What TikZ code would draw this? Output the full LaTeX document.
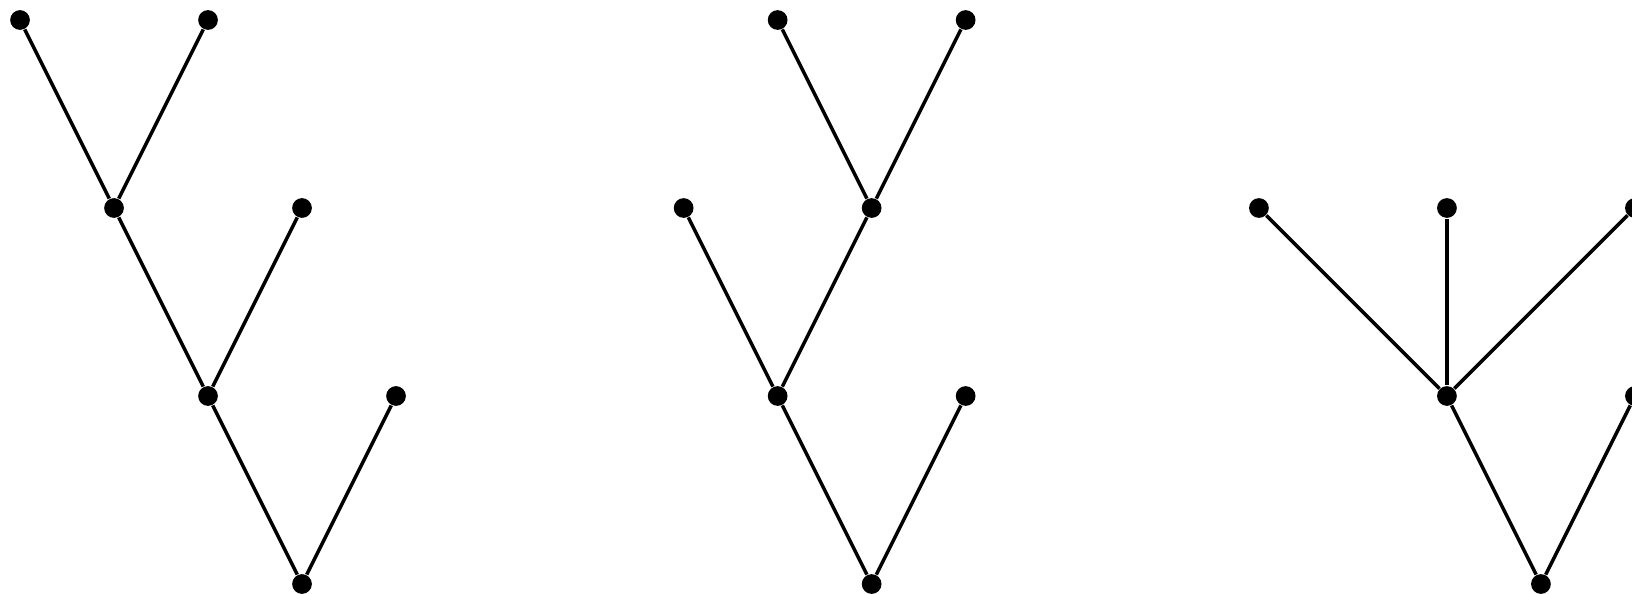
\documentclass[tikz,border=0pt]{standalone}
\begin{document}
\begin{tikzpicture}[dot/.style={circle,fill=black,inner sep=0pt,minimum size=0.21cm},
  edge/.style={black,line width=1.05pt}]
  \useasboundingbox (-0.213,-0.106) rectangle (17.149,6.213);
  \node[dot] (a1) at (0,6) {};
  \node[dot] (a2) at (2,6) {};
  \node[dot] (a3) at (1,4) {};
  \node[dot] (a4) at (3,4) {};
  \node[dot] (a5) at (2,2) {};
  \node[dot] (a6) at (4,2) {};
  \node[dot] (a7) at (3,0) {};
  \draw[edge] (a1)--(a3)--(a5)--(a7);
  \draw[edge] (a2)--(a3);
  \draw[edge] (a4)--(a5);
  \draw[edge] (a6)--(a7);
  \node[dot] (b1) at (8.06,6) {};
  \node[dot] (b2) at (10.06,6) {};
  \node[dot] (b3) at (7.06,4) {};
  \node[dot] (b4) at (9.06,4) {};
  \node[dot] (b5) at (8.06,2) {};
  \node[dot] (b6) at (10.06,2) {};
  \node[dot] (b7) at (9.06,0) {};
  \draw[edge] (b1)--(b4)--(b5)--(b7);
  \draw[edge] (b2)--(b4);
  \draw[edge] (b3)--(b5);
  \draw[edge] (b6)--(b7);
  \node[dot] (c1) at (13.18,4) {};
  \node[dot] (c2) at (15.18,4) {};
  \node[dot] (c3) at (17.18,4) {};
  \node[dot] (c4) at (15.18,2) {};
  \node[dot] (c5) at (17.18,2) {};
  \node[dot] (c6) at (16.18,0) {};
  \draw[edge] (c1)--(c4)--(c6);
  \draw[edge] (c2)--(c4);
  \draw[edge] (c3)--(c4);
  \draw[edge] (c5)--(c6);
\end{tikzpicture}
\end{document}
